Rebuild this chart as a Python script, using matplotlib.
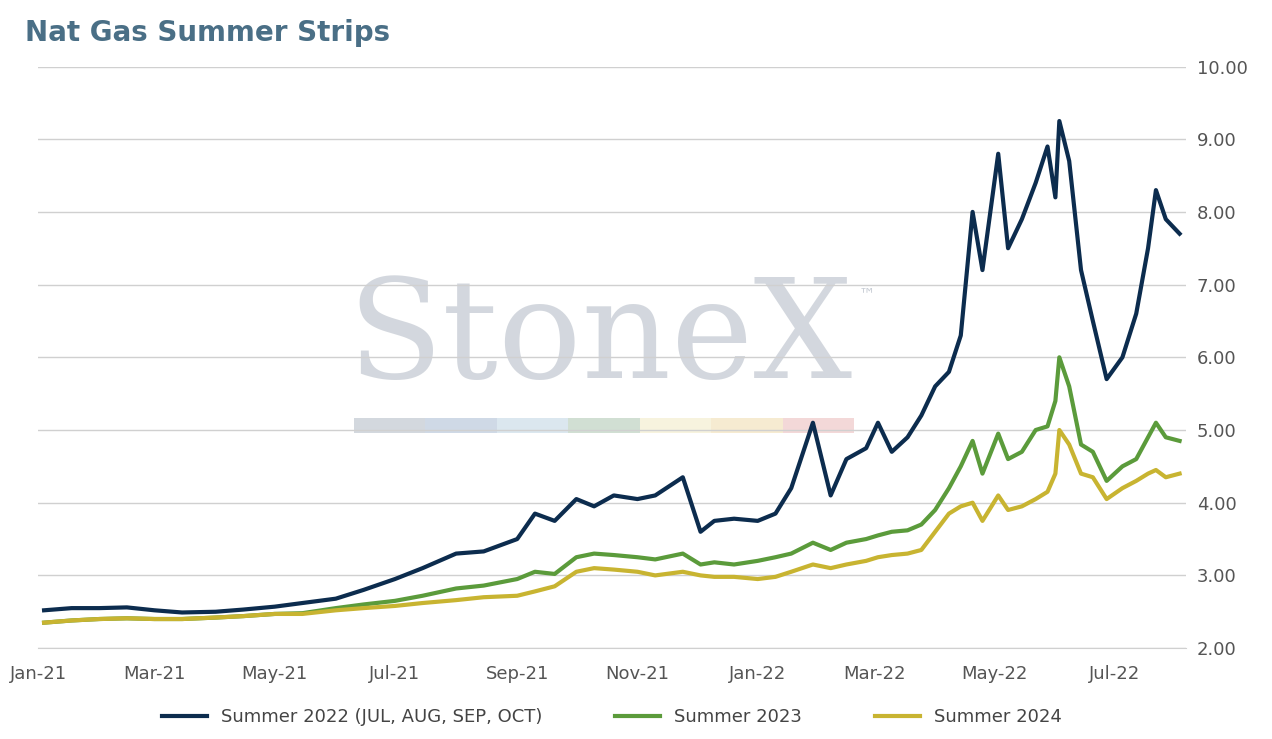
import numpy as np
import pandas as pd
import matplotlib
matplotlib.use('Agg')
import matplotlib.pyplot as plt
import matplotlib.dates as mdates

dates = ['2021-01-04','2021-01-18','2021-02-01','2021-02-15','2021-03-01','2021-03-15','2021-04-01','2021-04-15',
         '2021-05-01','2021-05-15','2021-06-01','2021-06-15','2021-07-01','2021-07-15','2021-08-01','2021-08-15',
         '2021-09-01','2021-09-10','2021-09-20','2021-10-01','2021-10-10','2021-10-20','2021-11-01','2021-11-10',
         '2021-11-24','2021-12-03','2021-12-10','2021-12-20','2022-01-01','2022-01-10','2022-01-18','2022-01-29',
         '2022-02-07','2022-02-15','2022-02-25','2022-03-03','2022-03-10','2022-03-18','2022-03-25','2022-04-01',
         '2022-04-08','2022-04-14','2022-04-20','2022-04-25','2022-05-03','2022-05-08','2022-05-15','2022-05-22',
         '2022-05-28','2022-06-01','2022-06-03','2022-06-08','2022-06-14','2022-06-20','2022-06-27','2022-07-05',
         '2022-07-12','2022-07-18','2022-07-22','2022-07-27','2022-08-03']
summer22 = [2.52,2.55,2.55,2.56,2.52,2.49,2.50,2.53,2.57,2.62,2.68,2.80,2.95,3.10,3.30,3.33,3.50,3.85,3.75,4.05,3.95,4.10,4.05,4.10,
            4.35,3.60,3.75,3.78,3.75,3.85,4.20,5.10,4.10,4.60,4.75,5.10,4.70,4.90,5.20,5.60,5.80,6.30,8.00,7.20,8.80,7.50,
            7.90,8.40,8.90,8.20,9.25,8.70,7.20,6.50,5.70,6.00,6.60,7.50,8.30,7.90,7.70]
summer23 = [2.35,2.38,2.40,2.41,2.40,2.40,2.42,2.44,2.47,2.48,2.55,2.60,2.65,2.72,2.82,2.86,2.95,3.05,3.02,3.25,3.30,3.28,3.25,3.22,
            3.30,3.15,3.18,3.15,3.20,3.25,3.30,3.45,3.35,3.45,3.50,3.55,3.60,3.62,3.70,3.90,4.20,4.50,4.85,4.40,4.95,4.60,
            4.70,5.00,5.05,5.40,6.00,5.60,4.80,4.70,4.30,4.50,4.60,4.90,5.10,4.90,4.85]
summer24 = [2.35,2.38,2.40,2.41,2.40,2.40,2.42,2.44,2.47,2.47,2.52,2.55,2.58,2.62,2.66,2.70,2.72,2.78,2.85,3.05,3.10,3.08,3.05,3.00,
            3.05,3.00,2.98,2.98,2.95,2.98,3.05,3.15,3.10,3.15,3.20,3.25,3.28,3.30,3.35,3.60,3.85,3.95,4.00,3.75,4.10,3.90,
            3.95,4.05,4.15,4.40,5.00,4.80,4.40,4.35,4.05,4.20,4.30,4.40,4.45,4.35,4.40]

x = pd.to_datetime(dates)
fig, ax = plt.subplots(figsize=(12.72, 7.39), dpi=100)
fig.subplots_adjust(left=0.03, right=0.932, top=0.91, bottom=0.123)

c22, c23, c24 = '#0c2c4e', '#5b9b3b', '#c8b431'
ax.plot(x, summer22, color=c22, lw=3, label='Summer 2022 (JUL, AUG, SEP, OCT)')
ax.plot(x, summer23, color=c23, lw=3, label='Summer 2023')
ax.plot(x, summer24, color=c24, lw=3, label='Summer 2024')

ax.set_ylim(2, 10)
ax.set_yticks(np.arange(2, 10.01, 1))
ax.set_yticklabels([f'{v:.2f}' for v in np.arange(2, 10.01, 1)])
ax.yaxis.tick_right()
ax.set_xlim(pd.Timestamp('2021-01-01'), pd.Timestamp('2022-08-06'))
ax.xaxis.set_major_locator(mdates.MonthLocator(bymonth=[1, 3, 5, 7, 9, 11]))
ax.xaxis.set_major_formatter(mdates.DateFormatter('%b-%y'))
ax.grid(axis='y', color='#d0d0d0', lw=1)
ax.set_axisbelow(True)
for s in ['top', 'right', 'left']:
    ax.spines[s].set_visible(False)
ax.spines['bottom'].set_color('#d0d0d0')
ax.tick_params(length=0, labelsize=13, colors='#555555', pad=8)
ax.tick_params(axis='x', pad=12)

# watermark
ax.text(0.49, 0.53, 'StoneX', transform=ax.transAxes, ha='center', va='center',
        fontsize=100, family='DejaVu Serif', color='#c9ced6', alpha=0.8, zorder=0)
ax.text(0.715, 0.6, '™', transform=ax.transAxes, fontsize=12, color='#c9ced6', zorder=0)
wcols = ['#c9cfd6', '#c3d0e0', '#d3e1ec', '#c6d8c8', '#f6f1d6', '#f4e6c6', '#f1cfcf']
for i, c in enumerate(wcols):
    ax.add_patch(plt.Rectangle((0.275 + i * 0.0623, 0.37), 0.0623, 0.025, transform=ax.transAxes,
                               color=c, alpha=0.8, zorder=0, lw=0))

fig.text(0.02, 0.945, 'Nat Gas Summer Strips', fontsize=20, fontweight='bold', color='#4a6f86')
ax.legend(loc='upper center', bbox_to_anchor=(0.5, -0.075), ncol=3, frameon=False,
          fontsize=13, handlelength=2.5, columnspacing=4, labelcolor='#444444')
fig.savefig('out.png', dpi=100)
